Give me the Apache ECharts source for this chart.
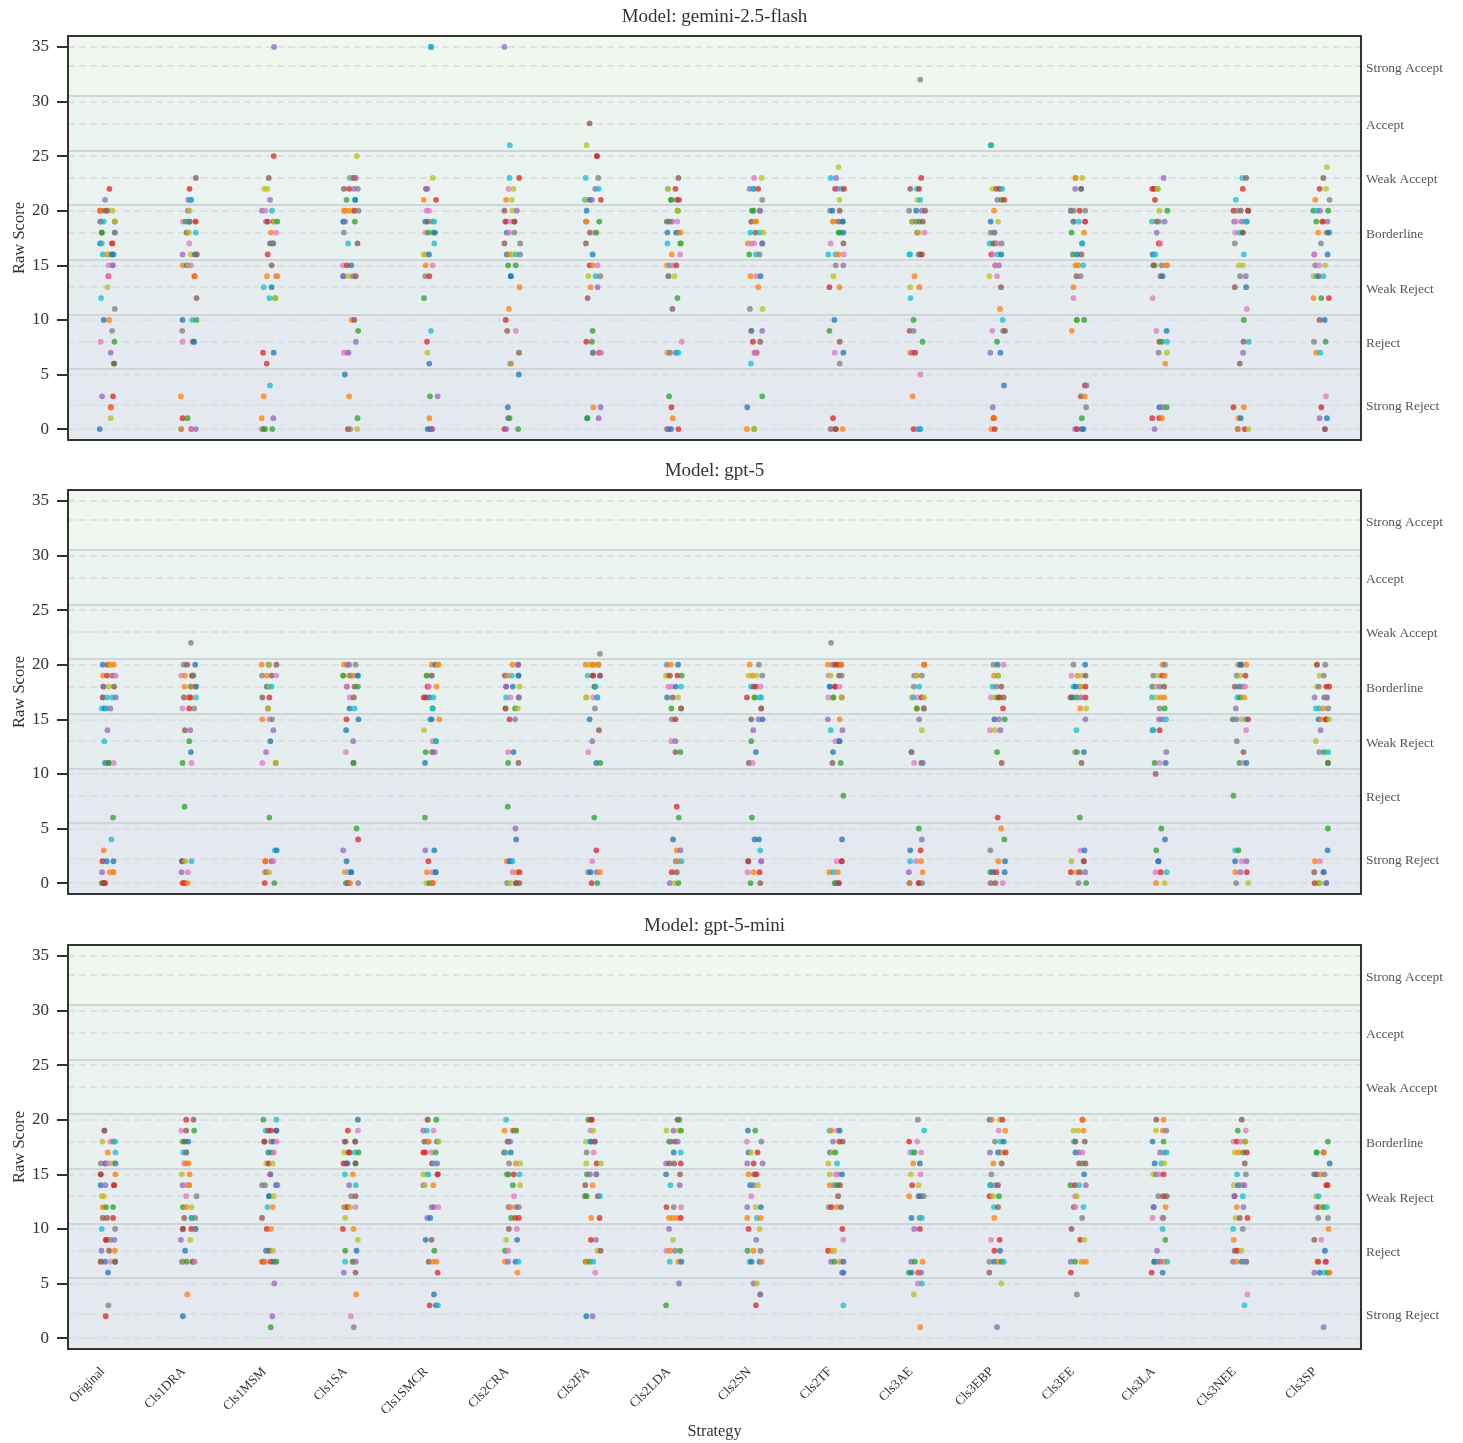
<!DOCTYPE html>
<html><head><meta charset="utf-8">
<style>html,body{margin:0;padding:0;background:#fff}#c{width:1463px;height:1443px}</style>
<script src="https://cdn.jsdelivr.net/npm/echarts@6/dist/echarts.min.js"></script>
</head><body><div id="c"></div>
<script>
const categories=["Original","Cls1DRA","Cls1MSM","Cls1SA","Cls1SMCR","Cls2CRA","Cls2FA","Cls2LDA","Cls2SN","Cls2TF","Cls3AE","Cls3EBP","Cls3EE","Cls3LA","Cls3NEE","Cls3SP"];
const models=["gemini-2.5-flash","gpt-5","gpt-5-mini"];
const yTicks=[0,5,10,15,20,25,30,35];
const bandNames=["Strong Reject","Reject","Weak Reject","Borderline","Weak Accept","Accept","Strong Accept"];
const bandEdges=[-1,5.5,10.5,15.5,20.5,25.5,30.5,36];
const bandMids=[2.25,8,13,18,23,28,33.25];
const bandColors=["#e4e8ef","#e4eaf0","#e5edee","#e8f1f0","#ebf3f0","#ecf4f0","#eff7ef"];
const palette=["#1f77b4","#ff7f0e","#2ca02c","#d62728","#9467bd","#8c564b","#e377c2","#7f7f7f","#bcbd22","#17becf"];
// Each strategy: {score:[jitter,colourIndex, jitter,colourIndex, ...]}; jitter is in 1/242.4 of a category
const JITTER_PER_CATEGORY=242.4;
const gemini=[
{22:[3,3],21:[-10,4],20:[-25,3,-22,1,-10,5,-3,5,12,8],19:[-25,4,-22,7,-14,9,19,5,19,8],18:[-20,5,-20,2,19,4,19,7],17:[-25,0,-20,9,10,1,12,3],16:[-17,9,-3,1,3,8,10,0,15,0],15:[1,6,13,6,13,4],14:[0,3,0,6],13:[-3,8],12:[-22,9],11:[19,7],10:[-14,0,2,1],9:[11,7],8:[-23,6,18,2],7:[7,4],6:[17,2,17,5],3:[-19,4,14,3],2:[7,3,8,1],1:[7,8],0:[-26,0]},
{23:[20,5],22:[1,3],21:[-3,4,5,0,6,9],20:[-4,4,1,8],19:[-19,6,-11,2,-4,9,1,0,1,7,19,1,19,3],18:[-8,5,-1,8,20,9],17:[0,6],16:[-20,4,5,8,17,0,23,5],15:[-19,1,-7,0,-2,8,5,6],14:[16,3,16,1],12:[22,5],10:[-20,0,9,9,22,2],9:[-21,7],8:[-20,6,11,5,15,0],3:[-25,1],1:[-20,3,-5,2],0:[-24,9,-24,1,6,5,6,6,20,4]},
{35:[12,4],25:[11,3],23:[-4,5],22:[-17,8,-8,8],21:[0,4],20:[-24,4,-14,6,6,9],19:[-12,4,-7,3,10,5,14,8,22,2],18:[3,1,19,6],17:[0,5,8,0,10,7],16:[-7,3],15:[5,5],14:[-9,1,18,6,22,1],13:[-19,9,5,0],12:[-2,9,15,2,17,8],7:[-21,3,11,0],6:[-10,3],4:[0,9],3:[-19,1],1:[-25,1,10,4],0:[-25,6,-20,2,-15,2,7,2]},
{25:[18,8],23:[-3,9,6,1,10,5,15,4],22:[-21,5,-5,3,9,4,21,7],21:[-13,2,13,9,13,0],20:[-21,1,-16,1,-5,1,3,8,11,3,23,7],19:[-23,9,-22,0,-17,4,12,2],18:[-21,7],17:[-8,9,20,5],15:[-24,6,-12,3,1,0],14:[-23,0,-22,4,-8,8,6,7,15,5],10:[3,1,10,5],9:[22,2],8:[15,4],7:[-21,6,-12,6,-7,4],5:[-18,0],3:[-5,1],1:[20,2],0:[-9,3,-2,7,19,8]},
{35:[-2,0,-2,9],23:[3,8],22:[-17,5,-13,4],21:[-24,1,13,3],20:[-15,6,-8,6],19:[-19,0,-12,5,2,7,8,9],18:[-18,6,-10,2,5,2,10,0],17:[8,9],16:[-24,8,-18,8,-8,0],15:[-18,1,3,6],14:[-19,7,-7,3],12:[-23,2],9:[-2,9],8:[-14,3],7:[-13,8],6:[-7,0],3:[-5,2,18,4],1:[-7,1],0:[-12,0,-5,0,1,3,1,4]},
{35:[-24,4],26:[-8,9],23:[-9,9,20,3],22:[-12,6,3,8],21:[-19,1,-2,8],20:[-24,5,0,8,13,4],19:[-22,7,-19,3,-7,6,6,3,6,5],18:[-17,0,-10,6,6,7],17:[-24,5,23,7],16:[-17,0,-9,1,0,8,11,9,23,7],15:[-13,2,10,2],14:[-5,0,-5,0],13:[21,1],11:[-11,1],10:[-20,3],9:[-16,5,10,6],7:[19,1,20,7],6:[-7,9,-4,1],5:[19,0],2:[-14,0],1:[-13,4,-9,2],0:[-24,3,-19,4,17,2]},
{28:[-11,5],26:[-20,8],25:[11,5,11,3],23:[-23,9,15,7],22:[6,4,16,9],21:[-25,9,-20,8,-10,0,-4,4,23,3],20:[-20,0],19:[-22,7,-20,1,18,2],18:[-10,5,4,6,9,2],17:[-22,5],16:[-2,0],15:[-11,3,-2,1,13,6],14:[-15,8,7,9,21,7],13:[-8,1,13,4],12:[-17,5],9:[-2,2],8:[-21,3,-4,2],7:[-1,0,-1,7,18,3,24,6],2:[0,1,22,4],1:[-18,0,-18,2,16,4]},
{23:[13,5],22:[-19,9,-18,8,4,3],21:[-9,7,-9,2,8,5,15,3],20:[11,2,11,8],19:[-22,5,-14,2,-6,4,10,6],18:[-20,0,6,0,13,7,20,1],17:[-20,9,18,8,20,2],16:[-7,1,18,6],15:[-21,1,-13,9,-4,6,7,3],14:[-17,4,-17,7,1,8],12:[10,2],11:[-5,5],8:[23,6],7:[-20,1,-12,7,6,0,13,9],3:[-15,2],2:[-8,3],1:[-4,1],0:[-21,5,-16,4,-9,0,13,3]},
{23:[-2,6,20,8],22:[-16,4,-4,0,-4,9,10,3],21:[22,7],20:[-9,2,-4,2,15,7,15,4],19:[-11,5,3,8,3,1],18:[-14,9,2,5,14,9,25,8],17:[-21,1,-10,6,-2,6,22,0,22,4],16:[-17,2,3,9,14,7],14:[-13,1,4,6,17,0],13:[10,1],11:[-15,7,23,8],9:[-11,0,-10,7,22,4],8:[-6,3,16,5],7:[-1,4,5,3,3,6],6:[-12,9],3:[22,2],2:[-23,0],0:[-24,1,-2,2,-2,8]},
{24:[8,8],23:[-15,9,1,4],22:[-2,3,6,4,18,9,25,3],21:[11,8],20:[-17,7,-10,0,12,5],19:[-9,8,-7,1,8,5,21,2,21,0],18:[8,2,13,2,23,0],17:[-15,6,23,5],16:[-22,9,-1,9,8,1,24,6],15:[0,7,23,4],14:[-7,8],13:[-19,3,11,1],10:[-4,0],9:[-19,2],8:[12,5],7:[-3,6,23,0],6:[12,7],1:[-8,3],0:[-15,8,-15,4,0,3,0,5,21,1]},
{32:[11,7],23:[14,3],22:[-19,5,1,9,8,3],21:[3,8,11,9],20:[-22,7,-1,0,16,4,26,5],19:[-13,5,-11,8,-1,7,9,2,19,5],18:[2,5,6,8,24,6],16:[-22,9,-19,9,6,4,11,2,16,3],14:[-6,1],13:[-19,8,9,1],12:[-18,9],10:[-9,2],9:[-21,5,-9,7],8:[18,2],7:[-19,1,-12,4,-4,3],5:[12,6],3:[-12,1],0:[-9,3,3,4,11,0,11,9]},
{26:[-19,2,-19,9],22:[-14,8,-3,5,7,3,15,9],21:[0,4,12,2,21,3],20:[-10,1],19:[-20,0,2,8],18:[-20,7,-9,4,-9,7],17:[-23,9,-13,2,-7,5,0,6,13,7],16:[-18,3,-13,6,2,9,12,0],15:[-6,5,5,4,-6,6],14:[-24,8,-1,6],13:[11,5],11:[8,1],10:[16,9],9:[-15,6,17,7,23,5],8:[-1,2],7:[-21,4,9,0],4:[20,0],2:[-14,4],1:[-11,2,-11,3,-11,1],0:[-18,1,-8,3]},
{23:[-8,8,-8,1,12,8],22:[-9,4,9,9,9,5],20:[-22,4,-22,7,-14,7,4,3,21,7],19:[-14,0,-14,7,2,9,21,6,21,3],18:[-20,2,18,1],17:[12,0,12,9],16:[-16,2,-3,0,10,5],15:[-8,1,0,1,15,9],14:[-5,5,7,7],13:[-14,1],12:[-14,6],10:[-4,8,-4,2,18,2],9:[-19,1],4:[20,3,25,4],3:[8,5,20,1],2:[24,7],1:[11,2],0:[-9,4,-3,3,11,0,16,0]},
{23:[14,4],22:[-20,3,-14,3,-4,2,-4,8],21:[-12,3],20:[1,8,25,2],19:[-21,9,-7,5,0,7,17,4],18:[-7,4],17:[0,1,0,3,4,6],16:[-19,0,-11,9],15:[-17,2,-11,8,8,7,20,1,25,1,-15,5],14:[5,5,11,0],12:[-19,6],9:[-8,6,23,0],8:[1,5,9,2,24,9],7:[-1,7,24,8],6:[19,1],2:[1,0,11,4,23,2],1:[-20,3,1,3,9,1],0:[-13,4]},
{23:[8,9,19,5],22:[9,3],21:[-12,9],20:[-19,3,-9,7,3,5,25,3,25,5],19:[-17,4,-11,6,6,4,21,0,18,9],18:[-14,6,-1,9,9,2,9,5],17:[-15,7],16:[12,9],15:[-3,8,9,8],14:[1,7,18,4],13:[-15,5,19,0],11:[21,6],10:[12,2],8:[11,5,27,9],7:[10,4],6:[0,5],2:[-19,3,12,1],1:[-4,1,3,0],0:[-6,0,-6,1,15,3,26,8]},
{24:[19,8],23:[8,5],22:[-3,3,16,8],21:[-16,1,27,7],20:[-22,2,-11,9,-2,4,23,2],19:[-13,2,4,1,7,3,21,4],18:[-7,1,19,5,26,0],17:[1,7],16:[-19,4,-19,6,21,0],15:[-16,7,-4,6,14,8],14:[-21,8,-13,9,-6,5,8,9],12:[-21,1,2,2,25,3],10:[-3,5,12,0],8:[-20,7,15,2],7:[-13,1,-1,9],3:[16,6],2:[2,3],1:[-3,4,19,0],0:[13,4,13,5]}
];
const gpt5=[
{20:[-17,0,-2,3,3,1,8,8,16,1],19:[-16,1,-4,3,10,1,14,4,22,6],18:[-15,5,-15,4,1,8,17,5],17:[-17,6,-17,5,-4,9,12,9,22,4],16:[-20,9,-11,0,-5,9,6,4],14:[-3,4],13:[-12,9],11:[-10,0,1,5,1,2,16,6],6:[14,2],4:[9,9],3:[-14,1],2:[-18,3,-5,0,15,0],1:[-19,4,4,1,15,8,15,1],0:[-20,2,-15,3,-12,5,-10,3]},
{22:[5,7],20:[-16,7,-6,5,18,0],19:[-24,6,-13,1,8,3,11,5,13,7],18:[-14,1,3,8,5,7,16,1,21,0],17:[-16,5,-1,4,-1,1,4,3,20,9],16:[-20,6,0,3,15,7],14:[-13,5,3,4],13:[0,2],12:[5,0],11:[-20,2,7,6],7:[-14,2],2:[-22,0,-20,5,-12,8,7,9],1:[-23,4,-4,6],0:[-20,3,-14,1,-14,3,-5,1]},
{20:[-25,1,-4,0,-3,8,19,5],19:[-24,7,-10,1,5,5,19,6],18:[-10,0,-4,7,-2,8,5,9],17:[-23,5,-2,3],16:[-6,5,-6,8],15:[-23,1,-2,6,6,7],14:[10,4],13:[1,0],12:[-12,4],11:[-23,6,17,5,17,8],6:[-2,2],3:[14,9,20,0],2:[-14,3,-14,1,5,5,10,6],1:[-15,1,-10,4,-3,8],0:[-16,3,13,2]},
{20:[-21,1,-10,7,-5,4,14,7],19:[-23,8,-23,2,-5,1,-1,7,8,1,21,9,21,0],18:[-12,5,-12,6,11,5,21,2],17:[-3,6,9,5],16:[-4,0,11,9],15:[-13,3,23,0],14:[-14,0],13:[7,4],12:[-15,6],11:[8,5,8,2],5:[17,2],4:[22,3],3:[-23,4],2:[-13,0],1:[-19,8,-10,6,1,9,1,0],0:[-15,2,-8,4,-8,5,-2,1,22,7]},
{20:[0,1,11,0,20,8,20,1],19:[-15,8,-15,2,0,5,0,7],18:[-12,6,-12,3,-8,6,15,1],17:[-24,3,-18,3,-7,0,5,9],16:[3,2,3,9],15:[-5,9,0,0,23,1],14:[-23,8],13:[3,6,13,2,13,9],12:[-18,2,1,5,9,4],11:[-20,0],6:[-20,2],3:[-19,4,8,0],2:[-10,3],1:[-14,1,3,6,12,9,12,0],0:[-16,8,-7,2,3,3,3,1]},
{20:[0,1,17,5,17,4],19:[-23,5,-14,1,-2,9,18,7,18,0],18:[-19,5,-19,4,1,0,21,8],17:[-19,9,-6,6,19,4,19,7],16:[-21,1,-21,5,8,2,16,8],15:[-9,3,8,4],12:[-13,6,3,0],11:[-13,2,18,5],7:[-14,2],5:[9,4],4:[11,0],2:[-17,1,-10,4,-6,0,0,9],1:[0,6,13,1,21,3],0:[-16,7,-6,8,11,3,11,5,21,5]},
{21:[20,7],20:[-23,1,-13,8,-3,1,0,1,15,3,15,8],19:[-17,9,-2,5,0,3,20,4,20,5],18:[3,2,5,5,7,9],17:[-22,8,-20,8,0,6,12,4,12,9],16:[5,7],15:[-11,0],14:[17,5],13:[-3,4],12:[-15,6],11:[9,0,21,2],6:[3,2],3:[9,3],2:[-3,6],1:[-15,7,-8,0,10,4,20,1],0:[-5,3,12,2]},
{20:[-22,7,-10,1,12,0],19:[-24,8,-18,1,-12,5,10,3,23,2],18:[-17,6,-7,6,5,0,21,9],17:[-21,0,-4,5,12,8],16:[-8,2,21,8,21,5],15:[-7,7,4,3],13:[-8,6,4,4],12:[4,5,19,2],7:[8,3],6:[14,2],4:[-3,0],3:[8,1,19,4],2:[5,7,13,1,22,9],1:[-7,3,8,5],0:[-13,4,1,8,13,2]},
{20:[-16,1,12,7],19:[-19,8,-7,1,5,8,22,7],18:[-12,9,-4,5,3,3,17,6],17:[-24,3,-1,8,-1,2,14,9,19,9],16:[19,6,19,5],15:[-11,5,11,4,23,0],14:[-5,4],13:[-11,2],12:[3,0],11:[-18,5,-7,6],6:[-9,2],4:[-1,0,12,0],3:[16,9],2:[-20,3,-20,5,19,6,19,4],1:[-22,6,-4,1,14,3],0:[-13,2,16,5]},
{22:[-14,7],20:[-24,1,-9,7,-1,3,8,3,16,5,16,1],19:[-22,6,-15,8,10,5,18,7],18:[-18,9,-18,0,-2,5,-2,3,11,6],17:[-22,6,-7,8,-7,2,18,5,18,8],15:[-24,4,12,1],14:[-15,9,20,4],13:[-1,6,11,4,11,0],12:[-8,0],11:[-10,5,15,2],8:[23,2],4:[19,0],2:[3,6,18,4,18,3],1:[-19,1,-7,9,6,1],0:[-2,7,-2,2,9,3,9,5]},
{20:[23,5,23,1],19:[-7,4,1,1,1,8,16,7],18:[-8,7,8,9],17:[-14,8,-9,9,3,6,16,3,23,8],16:[1,1,1,2,22,3,22,7],15:[8,4],14:[16,8],12:[-15,5,-15,4],11:[-7,6,14,2,19,4],5:[7,2],4:[16,4],3:[-19,0,12,3],2:[-19,9,-1,6,14,1],1:[-23,4,18,1],0:[-21,0,-21,1,7,5,7,3,17,7]},
{20:[-12,7,1,0,19,6],19:[-10,1,2,2,2,8],18:[-15,9,-3,7,12,5],17:[-19,6,-7,8,1,2,7,3,19,5],16:[17,3],15:[-9,0,5,4,22,2],14:[-22,6,-7,8,9,4],12:[-1,2],11:[13,5],6:[1,3],5:[11,1],4:[21,2],3:[-21,7],2:[3,1,23,0],1:[-21,2,-13,0,-3,3,22,0],0:[-20,8,-20,4,-6,5,16,6]},
{20:[-14,7,21,0],19:[-20,6,-2,1,11,8,22,5],18:[-14,9,-8,0,5,7,11,8,22,3],17:[-23,3,-17,0,-5,2,8,4,22,3],16:[6,1,24,8],15:[22,4],14:[-5,9],12:[-10,6,-4,2,17,0],11:[10,5],6:[5,2],3:[7,6,19,0],2:[-20,8,17,9,17,3],1:[-22,3,-4,1,5,5,21,4],0:[1,7,24,2]},
{20:[11,1,18,7],19:[-17,7,-2,8,10,3,18,1],18:[-20,2,-9,6,3,7,16,5],17:[-21,9,-7,8,6,1,16,1],16:[2,7,17,2],15:[0,4,10,4,21,9],14:[-19,0,-17,9,2,3],12:[22,4],11:[-13,2,2,6,20,0],10:[-10,5],5:[7,2],4:[18,0],3:[-8,2],2:[-3,4,-1,0],1:[-10,6,5,3,23,9],0:[-9,1,17,8]},
{20:[-4,7,3,5,5,0,19,1],19:[-9,7,1,8,17,3],18:[-15,5,-2,0,7,7,16,6],17:[-7,9,1,2,13,1],16:[-12,4],15:[-21,2,-10,4,6,8,19,9,25,3],14:[19,6],13:[-9,7],12:[11,5],11:[-1,2,11,6,20,0],8:[-19,2],3:[-14,9,-4,2],2:[-14,0,6,6,20,4],1:[-13,1,2,4,21,3],0:[-11,7,25,8]},
{20:[-11,1,-11,5,14,7],19:[-3,8,10,7],18:[-11,8,-5,7,17,3,26,3],17:[-18,4,11,2,19,6,19,4],16:[-14,9,-4,9,8,1,23,7],15:[-6,0,4,1,17,5,17,3,26,8],14:[0,4],13:[-14,8],12:[-4,4,11,2,23,9],11:[22,5,22,2],5:[22,2],3:[21,0],2:[-17,1,-2,6],1:[-19,5,9,4,9,0],0:[-18,3,-6,2,-1,8,17,0,17,4]}
];
const gpt5mini=[
{19:[-12,4,-12,5],18:[-18,8,6,6,15,7,20,9],17:[-2,1,21,9],16:[-23,7,-9,0,-9,4,0,6,12,8,21,0],15:[-23,3,-23,5,21,1],14:[-23,0,-9,4,17,5,17,3],13:[-20,8,-14,8],12:[-17,1,-7,2,14,2],11:[-17,5,-4,5,14,3],10:[-20,9,20,7],9:[-8,3,-5,3,6,7,18,4],8:[-21,4,2,5,19,1],7:[-23,1,-23,5,-10,0,5,6,20,2,20,5],6:[-1,0],3:[0,7],2:[-8,3]},
{20:[-9,3,13,5],19:[-24,6,-9,5,15,2],18:[-19,2,-12,5,-3,0],17:[-18,9,-9,0,-9,7],16:[-15,6,-9,1,-2,1],15:[-22,8,1,1],14:[-20,4,-7,6,0,8,0,1],13:[-9,6,22,7],12:[-19,2,-9,1,7,8],11:[-15,5,7,2,7,9,18,7],10:[-19,3,-19,5,6,3,19,0,19,7],9:[-25,4,3,8],8:[-12,0],7:[-21,0,-17,1,-7,2,11,2,11,5,17,6],4:[-6,1],2:[-19,0]},
{20:[-20,2,19,9],19:[-13,9,-5,5,3,3,19,3,19,0],18:[-17,3,-17,5,3,7,10,0,20,6],17:[-5,0,5,2,12,6],16:[-11,8,-4,3,8,8],15:[1,5,1,4],14:[-24,7,-15,7,18,0,22,4],13:[-3,2,-3,0,11,8],12:[-8,9,8,1],11:[-24,5],10:[-10,3,3,1],8:[-12,0,-2,5,9,8],7:[-25,1,-20,5,-15,1,2,3,12,0,19,2],5:[13,4],2:[7,4],1:[2,2]},
{20:[21,0],19:[-9,3,21,6],18:[-19,4,-16,5,13,7,13,5],17:[-20,8,-7,5,-4,3,12,9,23,2],16:[-22,3,-14,3,-10,0,14,2,14,5],15:[-18,9,6,1],14:[-5,4,15,9],13:[1,7,14,5],12:[-20,7,-14,1,-9,3,-2,8,14,6],11:[-17,8],10:[-24,3,8,1],9:[21,8],8:[-17,2,17,0],7:[-17,9,5,1,7,2,15,4],6:[-21,4,14,5],4:[16,1],2:[0,6],1:[9,7]},
{20:[-12,8,-12,5,14,2],19:[-25,4,-25,6,-14,9,6,6],18:[-22,5,-13,7,-8,1,16,0,21,8],17:[-25,3,-19,3,-1,6,12,2],16:[1,3,9,9,17,4],15:[-25,8,-15,8,-10,9,18,5,18,3],14:[-25,4,-21,8,5,1],12:[0,7,7,4,20,6],11:[-13,4,-4,0],9:[-18,0,0,5],8:[8,2],7:[-9,5,5,1,15,1],6:[18,3],4:[7,0],3:[-6,3,13,0,19,9]},
{20:[-19,9],19:[-24,1,2,3,11,8,11,2],18:[-15,5,-12,7,-7,4],17:[-25,3,-21,9,-5,0],16:[-10,7,10,1,23,8],15:[-17,7,-12,2,4,3,21,9],14:[1,2,23,8],13:[5,6],12:[-12,4,-5,1,11,4,19,7],11:[-4,2,9,3,19,3],10:[-11,5,13,6],9:[-19,8,14,0],8:[-22,2,-13,6],7:[-23,1,-13,4,9,0,18,9],6:[15,1]},
{20:[-15,2,-8,5,-4,3],19:[-9,6,0,8],18:[-22,8,-9,9,-7,0,3,4,5,5],17:[-20,7,1,6],16:[-21,8,10,3,23,8],15:[-19,2,-10,4,9,4,9,7],14:[-24,5,-2,1],13:[-25,5,-20,2,14,3,20,9],11:[-6,1,19,3],9:[-7,3,8,4],8:[12,8,22,5],7:[-23,2,-20,1,-10,2,0,9],6:[6,6],2:[-21,0,-2,4]},
{20:[10,5,16,2],19:[-23,8,-2,4,13,8,21,2],18:[-15,2,-9,7,3,5,11,4],17:[-1,0,20,9],16:[-24,4,-14,5,0,5,20,3],15:[-24,0,18,5],14:[-11,9,17,4],12:[-23,3,-1,7,21,6],11:[-15,1,-4,1,8,1,20,3],10:[-15,4],9:[-3,8],8:[-23,6,-12,1,3,7,18,2],7:[-13,9,13,1,22,0],5:[15,4],3:[-24,2]},
{19:[-21,0,1,2],18:[-24,6,19,7],17:[-19,0,-12,8,8,3],16:[-23,4,-4,3,23,4],15:[-19,1,-2,5,5,3],14:[-14,0,-4,7,9,8],13:[-11,6],12:[-23,4,2,8,18,0],11:[-23,1,6,9,17,1],10:[-19,3,14,8],9:[4,4],8:[-22,2,-4,1,17,7],7:[-16,9,-10,0,14,0,21,1],5:[-4,4,6,8],4:[16,4,16,7],3:[3,3]},
{19:[-19,9,-13,1,4,6,12,0],18:[-8,4,11,3,21,5],17:[-17,0,-11,8,-1,2],16:[-22,8,4,9],15:[-18,8,0,6,8,6,19,0],14:[-18,1,-4,7,5,2,13,5],13:[7,5],12:[-21,7,-13,3,3,1,16,5],10:[20,3],9:[23,6],8:[-23,3,-12,1,-4,8],7:[-14,4,-4,2,13,1,23,0],6:[19,4,23,0],3:[23,9]},
{20:[4,7],19:[23,9],18:[-22,3,2,6],17:[-19,6,-12,9,-6,2,14,6],16:[-10,1,10,0],15:[-17,8,12,6],14:[-13,3,6,8],13:[-22,1,6,5,13,0,22,7],11:[-15,0,9,7,16,9],10:[-7,4,10,3],7:[-16,4,-5,2,18,1],6:[-23,2,-15,0,5,3,8,1,14,4],5:[4,6,16,9],4:[-8,8],1:[11,1]},
{20:[-23,0,-17,1,7,8,15,3],19:[4,6,24,1],18:[-7,7,10,9,19,0],17:[-22,4,2,0,9,4,17,8,25,3],16:[-12,1,13,5],15:[-18,7],14:[-21,2,-21,9,-6,4,2,5],13:[-23,3,-13,8,5,2],12:[-10,9,2,5],11:[-9,1],9:[-19,6,7,3],8:[-9,3,8,0],7:[-24,7,-9,0,2,1,13,2,19,9],6:[-24,5],5:[12,8],1:[-1,4]},
{20:[13,3,13,1],19:[-14,8,0,8,16,1],18:[-13,9,-8,5,20,5],17:[-8,0,3,4,13,6],16:[3,5,12,7,22,5],15:[18,0],14:[-23,2,-10,3,3,9,23,4],13:[-9,6,-4,8],12:[-13,5,-8,6,16,9],11:[12,7],10:[-20,5],9:[6,3,18,8],7:[-22,4,-9,2,10,1,23,1],6:[-22,3],4:[-4,7]},
{20:[-8,5,14,1],19:[-9,8,11,1,22,4],18:[-19,0,14,2],17:[3,4,17,7,23,9],16:[-13,0,7,9,16,8],15:[-17,8,-9,7,2,6,14,3],13:[-2,7,13,3,23,5],12:[-16,0,-16,4,20,1],11:[-19,6,10,6,13,7],10:[11,9],9:[19,2],8:[-6,4],7:[-14,2,-14,0,-4,7,5,4,16,1,25,9],6:[-22,3,11,0]},
{20:[6,5],19:[-6,2,18,6],18:[-19,6,-9,3,3,6,16,5,16,8],17:[-15,8,-4,1,11,2,21,3],16:[15,5],15:[-8,9,18,7],14:[-18,8,-5,0,7,7,14,4],13:[-16,5,-16,4,9,9],12:[-9,1,11,4],11:[-13,8,0,5,23,3],10:[-20,9,9,7],9:[-18,1],8:[-15,5,-7,3,5,8],7:[-20,4,-9,1,6,0,19,4,19,7],4:[23,6],3:[14,9]},
{18:[22,2],17:[-12,9,-12,2,9,5,9,1],16:[27,0],15:[-19,5,-11,0,-1,1,12,7],14:[17,3,21,3],13:[-13,8,-6,9],12:[-13,6,-6,5,4,8,10,2,19,9],11:[-7,7,22,7],10:[24,1],9:[-19,5,2,6],8:[13,0],7:[-11,8,-7,3,14,6,16,3],6:[-19,4,-3,0,12,9,22,2,27,1],1:[9,4]}
];
const modelData=[gemini,gpt5,gpt5mini];

const TEXT='#333333', SERIF='"Liberation Serif","Times New Roman",serif';
const gridTops=[36,490,945], GRID_H=404, GRID_L=68, GRID_W=1293;

function points(cols){
  const out=[];
  cols.forEach((col,i)=>Object.entries(col).forEach(([score,a])=>{
    for(let k=0;k<a.length;k+=2) out.push([i+a[k]/JITTER_PER_CATEGORY,+score,a[k+1]]);
  }));
  return out;
}
const grid=[],xAxis=[],yAxis=[],series=[],title=[];
const dashedValues=[...new Set([...yTicks,...bandMids])];
models.forEach((m,k)=>{
  const top=gridTops[k];
  grid.push({left:GRID_L,top,width:GRID_W,height:GRID_H,containLabel:false,outerBoundsMode:'none'});
  title.push({text:'Model: '+m,left:GRID_L+GRID_W/2,textAlign:'center',top:top-28,padding:0,
    textStyle:{fontFamily:SERIF,fontSize:19,fontWeight:'normal',color:TEXT}});
  const last=k===models.length-1;
  xAxis.push({type:'category',gridIndex:k,data:categories,position:'bottom',z:6,
    axisLine:{show:true,onZero:false,lineStyle:{color:TEXT,width:2}},axisTick:{show:false},splitLine:{show:false},
    axisLabel:{show:last,rotate:45,interval:0,margin:15,padding:[0,8,0,0],fontFamily:SERIF,fontSize:13.2,color:TEXT},
    name:last?'Strategy':'',nameLocation:'middle',nameGap:75,nameMoveOverlap:false,nameTextStyle:{fontFamily:SERIF,fontSize:16.2,color:TEXT}});
  xAxis.push({type:'value',gridIndex:k,min:-0.5,max:15.5,position:'top',z:6,
    axisLine:{show:true,onZero:false,lineStyle:{color:TEXT,width:2}},axisTick:{show:false},axisLabel:{show:false},splitLine:{show:false}});
  yAxis.push({type:'value',gridIndex:k,min:-1,max:36,position:'left',z:6,
    axisLine:{show:true,onZero:false,lineStyle:{color:TEXT,width:2}},
    axisTick:{show:true,length:11,lineStyle:{color:TEXT,width:2},customValues:yTicks},
    axisLabel:{margin:19,fontFamily:SERIF,fontSize:17,color:TEXT,customValues:yTicks},splitLine:{show:false},
    name:'Raw Score',nameLocation:'middle',nameGap:40,nameMoveOverlap:false,nameTextStyle:{fontFamily:SERIF,fontSize:16.5,color:TEXT}});
  yAxis.push({type:'value',gridIndex:k,min:-1,max:36,position:'right',z:6,
    axisLine:{show:true,onZero:false,lineStyle:{color:TEXT,width:2}},axisTick:{show:false},axisLabel:{show:false},splitLine:{show:false}});
  const common={xAxisIndex:2*k+1,yAxisIndex:2*k,animation:false,silent:true};
  series.push({type:'scatter',...common,data:[],z:1,
    markArea:{z:0,silent:true,animation:false,data:bandColors.map((c,i)=>[{yAxis:bandEdges[i],itemStyle:{color:c,opacity:1}},{yAxis:bandEdges[i+1]}])}});
  series.push({type:'scatter',...common,data:[],z:1,
    markLine:{z:1,silent:true,animation:false,symbol:'none',label:{show:false},
      lineStyle:{type:'solid',color:'#cfd6d8',width:2},
      data:bandEdges.slice(1,-1).map(v=>({yAxis:v}))}});
  series.push({type:'scatter',...common,data:[],z:1,
    markLine:{z:1,silent:true,animation:false,symbol:'none',label:{show:false},
      lineStyle:{type:[7,4],color:'#d9dcdf',width:1.5},
      data:dashedValues.map(v=>({yAxis:v}))}});
  series.push({type:'scatter',...common,data:[],z:1,
    markLine:{z:1,silent:true,animation:false,symbol:'none',lineStyle:{color:'transparent',width:0},
      label:{show:true,position:'end',distance:5,offset:[0,2],fontFamily:SERIF,fontSize:13.4,color:'#555555',formatter:p=>p.name},
      data:bandMids.map((v,i)=>({yAxis:v,name:bandNames[i]}))}});
  series.push({type:'scatter',...common,z:3,symbolSize:5.8,data:points(modelData[k]),
    itemStyle:{opacity:0.75,color:p=>palette[p.value[2]]}});
});
const chart=echarts.init(document.getElementById('c'),null,{renderer:'canvas'});
chart.setOption({animation:false,backgroundColor:'#fff',title,grid,xAxis,yAxis,series});
</script></body></html>
